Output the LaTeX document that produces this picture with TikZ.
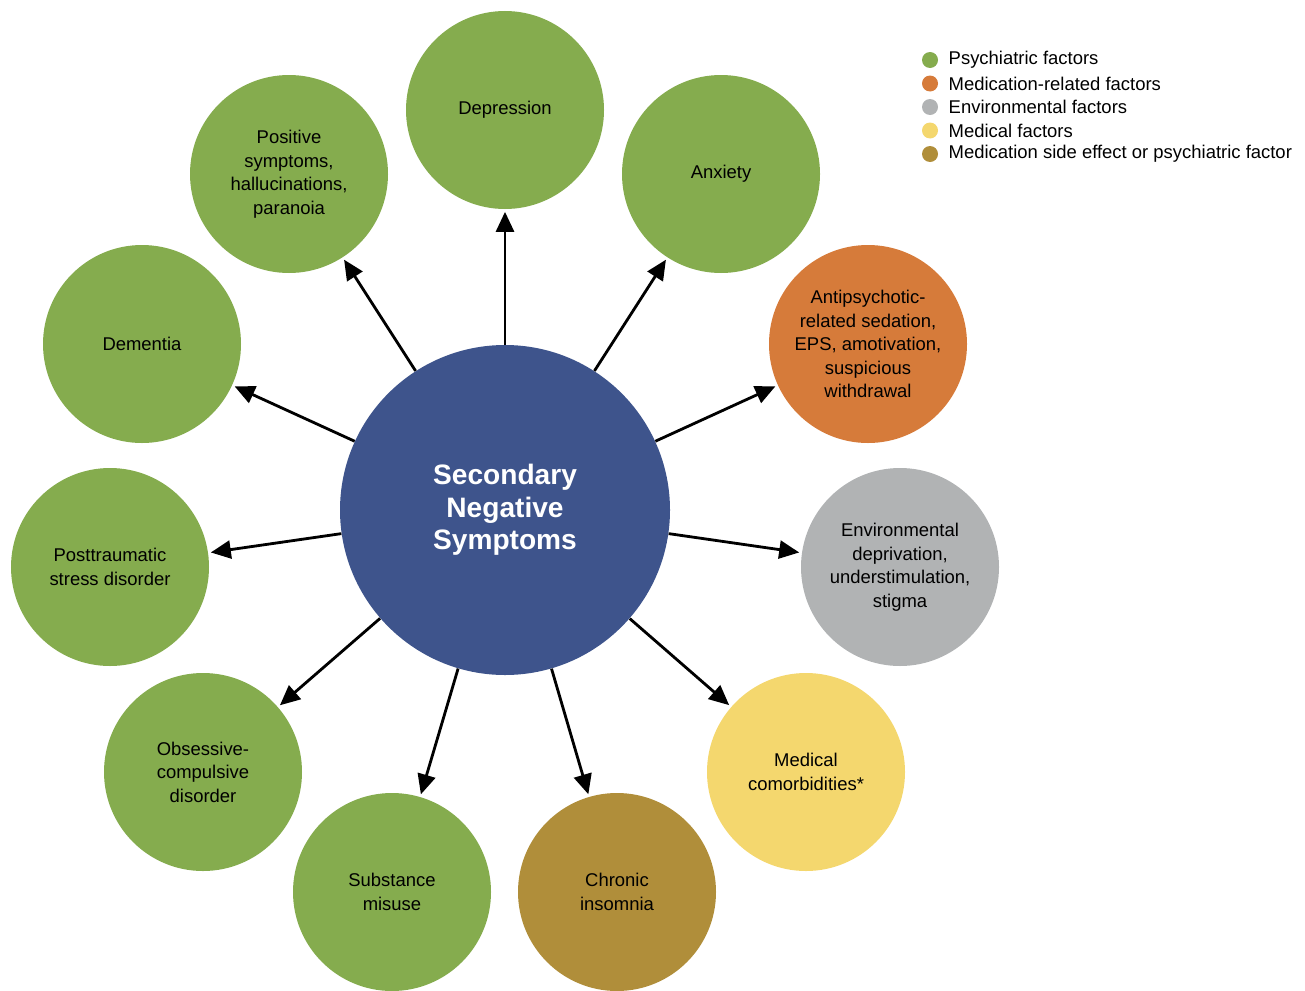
\documentclass[tikz,border=0pt]{standalone}
\usepackage{fontspec}
\setmainfont{Liberation Sans}
\usepackage{tikz}
\usetikzlibrary{positioning}
\usetikzlibrary{arrows.meta}
\usetikzlibrary{math}

\definecolor{psych}{HTML}{85AC4E}
\definecolor{medrel}{HTML}{D67B3A}
\definecolor{envir}{HTML}{B1B3B4}
\definecolor{medic}{HTML}{F4D76E}
\definecolor{sidefx}{HTML}{B08E3A}
\definecolor{hub}{HTML}{3E548C}

\begin{document}
\begin{tikzpicture}[
    factor/.style={circle, inner sep=0pt, minimum size=3.96cm, align=center,
      font=\fontsize{10.5}{13.4}\selectfont},
    link/.style={black, line width=1.6pt, -{Triangle[length=0.4cm,width=0.36cm]},
      shorten >=0.05cm},
    keydot/.style={circle, inner sep=0pt, minimum size=0.32cm},
    keytext/.style={inner sep=0pt, font=\fontsize{10.5}{13.4}\selectfont}
  ]
      \tikzmath{
        \rowH = 0.47;
      }
      \useasboundingbox (0,0) rectangle (26.10,-19.80);

      % centre
      \node[circle, fill=hub, inner sep=0pt, minimum size=6.6cm, align=center,
        text=white, font=\bfseries\fontsize{16}{18.5}\selectfont] (snm) at (10.10,-10.20)
        {Secondary\\Negative\\Symptoms};

      % factors
      \node[factor, fill=psych] (depr) at (10.10,-2.20) {Depression};
      \node[factor, fill=psych] (posi) at (5.78,-3.48) {Positive\\symptoms,\\hallucinations,\\paranoia};
      \node[factor, fill=psych] (anxi) at (14.42,-3.48) {Anxiety};
      \node[factor, fill=psych] (deme) at (2.84,-6.88) {Dementia};
      \node[factor, fill=medrel] (anti) at (17.36,-6.88) {Antipsychotic-\\related sedation,\\EPS, amotivation,\\suspicious\\withdrawal};
      \node[factor, fill=psych] (ptsd) at (2.20,-11.34) {Posttraumatic\\stress disorder};
      \node[factor, fill=envir] (envi) at (18.00,-11.34) {Environmental\\deprivation,\\understimulation,\\stigma};
      \node[factor, fill=psych] (ocd) at (4.06,-15.44) {Obsessive-\\compulsive\\disorder};
      \node[factor, fill=medic] (como) at (16.12,-15.44) {Medical\\comorbidities*};
      \node[factor, fill=psych] (subs) at (7.84,-17.84) {Substance\\misuse};
      \node[factor, fill=sidefx] (insom) at (12.34,-17.84) {Chronic\\insomnia};

      \foreach \tgt in {depr,posi,anxi,deme,anti,ptsd,envi,ocd,como,subs,insom}
        \draw[link] (snm) -- (\tgt);

      % legend
      \foreach \i/\col/\txt in {0/psych/Psychiatric factors,
          1/medrel/Medication-related factors,
          2/envir/Environmental factors,
          3/medic/Medical factors,
          4/sidefx/Medication side effect or psychiatric factor} {
        \node[keydot, fill=\col] (key\i) at (18.60,-1.20-\i*\rowH) {};
        \node[keytext, right=0.2cm of key\i] (keylab\i) {\txt};
      }
\end{tikzpicture}
\end{document}
